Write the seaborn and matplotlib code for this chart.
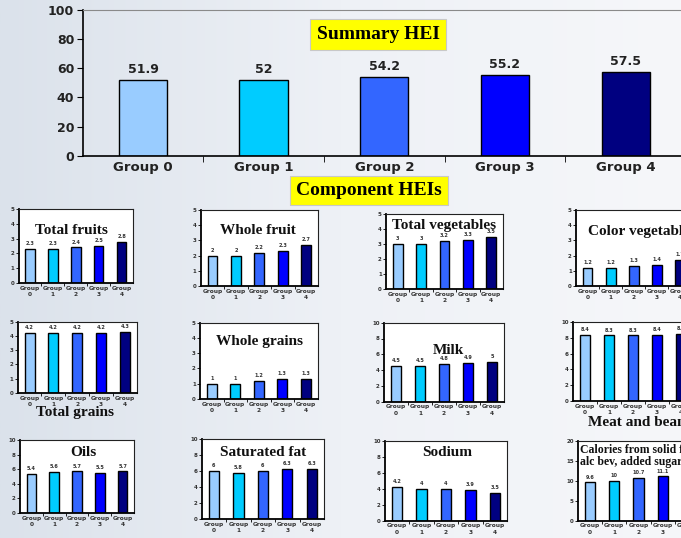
import numpy as np
import matplotlib
matplotlib.use("Agg")
import matplotlib.pyplot as plt
from matplotlib.colors import LinearSegmentedColormap
import seaborn as sns

# ---- data -------------------------------------------------------------
groups = ["Group 0", "Group 1", "Group 2", "Group 3", "Group 4"]
small_group_labels = ["Group\n0", "Group\n1", "Group\n2", "Group\n3", "Group\n4"]
group_colors = ["#99CCFF", "#00CCFF", "#3366FF", "#0000FF", "#000080"]

summary_hei = [51.9, 52, 54.2, 55.2, 57.5]

total_fruits = [2.3, 2.3, 2.4, 2.5, 2.8]
whole_fruit = [2, 2, 2.2, 2.3, 2.7]
total_vegetables = [3, 3, 3.2, 3.3, 3.5]
color_vegetables = [1.2, 1.2, 1.3, 1.4, 1.7]
total_grains = [4.2, 4.2, 4.2, 4.2, 4.3]
whole_grains = [1, 1, 1.2, 1.3, 1.3]
milk = [4.5, 4.5, 4.8, 4.9, 5]
meat_and_beans = [8.4, 8.3, 8.3, 8.4, 8.5]
oils = [5.4, 5.6, 5.7, 5.5, 5.7]
saturated_fat = [6, 5.8, 6, 6.3, 6.3]
sodium = [4.2, 4, 4, 3.9, 3.5]
calories_sofaas = [9.6, 10, 10.7, 11.1, 11.6]

# ---- figure in pixel units ------------------------------------------
W, H = 681, 538
fig = plt.figure(figsize=(W / 100, H / 100), dpi=100)


def box(l, r, t, b):
    return [l / W, 1 - b / H, (r - l) / W, (b - t) / H]


def px(x, y):
    return x / W, 1 - y / H


# soft slide background
bg = fig.add_axes([0, 0, 1, 1], zorder=-5)
grad = np.linspace(0, 1, 256)[None, :]
bg_cmap = LinearSegmentedColormap.from_list("slide", ["#dbe2eb", "#eef1f6", "#f6f7fa"])
bg.imshow(grad, aspect="auto", cmap=bg_cmap, extent=[0, 1, 0, 1])
bg.set_axis_off()

LABEL_FONT = "DejaVu Sans"
SERIF = "Liberation Serif"


def draw_bars(ax, values, width):
    sns.barplot(x=groups, y=values, hue=groups, palette=group_colors,
                legend=False, ax=ax, width=width, saturation=1,
                edgecolor="black", linewidth=1.0)


# ---- summary chart ----------------------------------------------------
ax = fig.add_axes(box(82.6, 686, 10, 155.7))
ax.set_facecolor("none")
draw_bars(ax, summary_hei, 0.40)
ax.set_xlim(-0.5, 4.5)
ax.set_ylim(0, 100)
ax.set_yticks(range(0, 101, 20))
ax.set_xlabel("")
ax.set_ylabel("")
ax.set_xticks(range(5))
ax.set_xticklabels(groups)
ax.set_xticks(np.arange(0.5, 4.5, 1), minor=True)
ax.tick_params(axis="x", which="major", length=0, pad=4)
ax.tick_params(axis="x", which="minor", length=4, color="black")
ax.tick_params(axis="y", length=4, pad=2)
for lab in ax.get_xticklabels():
    lab.set_fontfamily(LABEL_FONT)
    lab.set_fontweight("bold")
    lab.set_fontsize(9.5)
    lab.set_color("#222222")
for lab in ax.get_yticklabels():
    lab.set_fontfamily(LABEL_FONT)
    lab.set_fontweight("bold")
    lab.set_fontsize(9)
    lab.set_color("#222222")
for side in ("left", "bottom"):
    ax.spines[side].set_color("black")
    ax.spines[side].set_linewidth(1.2)
ax.spines["top"].set_color("#8a8a8a")
ax.spines["right"].set_visible(False)
for cont in ax.containers:
    ax.bar_label(cont, fmt="{:g}", padding=3, fontsize=9,
                 fontweight="bold", fontfamily=LABEL_FONT, color="#222222")

fig.text(*px(378, 34.5), "Summary HEI", ha="center", va="center",
         fontsize=14, fontweight="bold", family=SERIF,
         bbox=dict(boxstyle="square,pad=0.35", fc="#ffff00", ec="#c8c8c8", lw=0.8))
fig.text(*px(369, 190.5), "Component HEIs", ha="center", va="center",
         fontsize=14, fontweight="bold", family=SERIF,
         bbox=dict(boxstyle="square,pad=0.3", fc="#ffff00", ec="#c8c8c8", lw=0.8))


# ---- component charts -----------------------------------------------
def small_chart(edges, values, ymax, ystep, title, title_xy,
                ha="center", tsize=11):
    a = fig.add_axes(box(*edges))
    a.set_facecolor("white")
    draw_bars(a, values, 0.42)
    a.set_xlim(-0.5, 4.5)
    a.set_ylim(0, ymax)
    a.set_yticks(np.arange(0, ymax + 0.01, ystep))
    a.set_yticklabels([f"{v:g}" for v in np.arange(0, ymax + 0.01, ystep)])
    a.set_xlabel("")
    a.set_ylabel("")
    a.set_xticks(range(5))
    a.set_xticklabels(small_group_labels)
    a.set_xticks(np.arange(0.5, 4.5, 1), minor=True)
    a.tick_params(axis="x", which="major", length=0, pad=2)
    a.tick_params(axis="x", which="minor", length=2, width=0.6)
    a.tick_params(axis="y", length=2, width=0.6, pad=1)
    for lab in a.get_xticklabels():
        lab.set_fontfamily(LABEL_FONT)
        lab.set_fontweight("bold")
        lab.set_fontsize(4.2)
        lab.set_linespacing(1.3)
        lab.set_color("#333333")
    for lab in a.get_yticklabels():
        lab.set_fontfamily(LABEL_FONT)
        lab.set_fontweight("bold")
        lab.set_fontsize(4)
        lab.set_color("#333333")
    for side in ("left", "bottom"):
        a.spines[side].set_linewidth(1.3)
        a.spines[side].set_color("black")
    for side in ("top", "right"):
        a.spines[side].set_linewidth(0.8)
        a.spines[side].set_color("#222222")
    for cont in a.containers:
        a.bar_label(cont, fmt="{:g}", padding=2, fontsize=3.6,
                    fontweight="bold", fontfamily=LABEL_FONT, color="#333333")
    fig.text(*px(*title_xy), title, ha=ha, va="center", fontsize=tsize,
             fontweight="bold", family=SERIF, color="#111111", linespacing=1.15)
    return a


# first row
small_chart((18.5, 133, 209, 283), total_fruits, 5, 1, "Total fruits", (71, 230.5))
small_chart((200.7, 318, 210, 286), whole_fruit, 5, 1, "Whole fruit", (257.5, 230.5))
small_chart((386, 503, 214, 289), total_vegetables, 5, 1, "Total vegetables", (444, 226))
small_chart((576, 691.5, 210, 286), color_vegetables, 5, 1, "Color vegetables",
            (588, 231), ha="left")

# second row
small_chart((17.7, 136.7, 321.7, 393), total_grains, 5, 1, "Total grains", (75.5, 412.5))
small_chart((200, 317.7, 322.7, 399), whole_grains, 5, 1, "Whole grains", (259, 341))
small_chart((384, 504, 322.7, 401.7), milk, 10, 2, "Milk", (448, 350))
small_chart((573, 693, 322, 401), meat_and_beans, 10, 2, "Meat and beans",
            (588, 422.5), ha="left")

# third row
small_chart((20, 134, 440, 513), oils, 10, 2, "Oils", (83, 453))
small_chart((201.7, 324, 439, 519), saturated_fat, 10, 2, "Saturated fat", (263, 453))
small_chart((385, 507, 441, 520.7), sodium, 10, 2, "Sodium", (447, 453))
small_chart((578, 699, 441, 520.7), calories_sofaas, 20, 5,
            "Calories from solid fats,\nalc bev, added sugars", (580, 455.5),
            ha="left", tsize=8.5)

fig.savefig("out.png", dpi=100)
